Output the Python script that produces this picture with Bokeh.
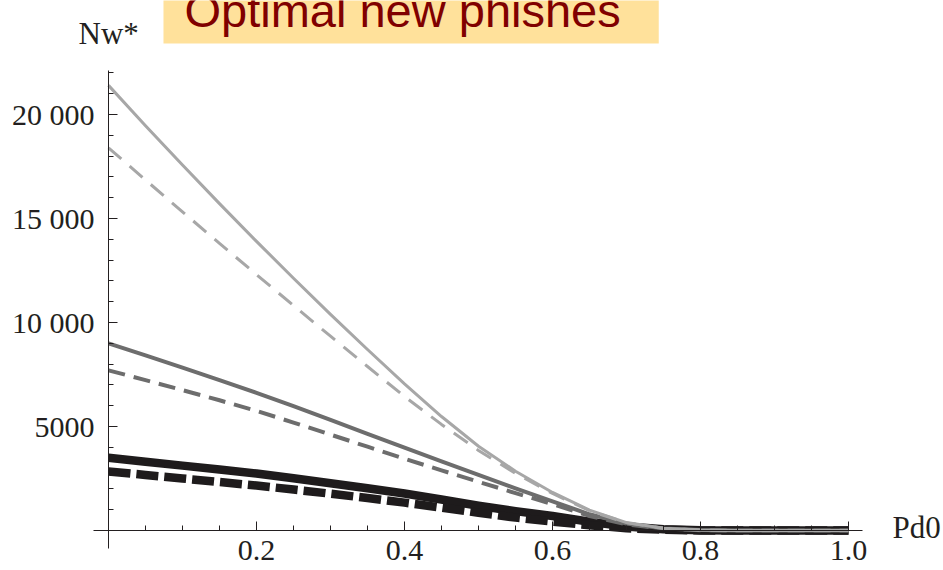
from bokeh.plotting import figure
from bokeh.models import Range1d, FixedTicker, Label
from bokeh.embed import file_html
from bokeh.resources import INLINE

# ---- data ----
pd0 = [0.00, 0.05, 0.10, 0.15, 0.20, 0.25, 0.30, 0.35, 0.40, 0.45, 0.50,
       0.55, 0.60, 0.65, 0.70, 0.75, 0.80, 0.85, 0.90, 0.95, 1.00]

light_solid = [21400, 19464, 17569, 15714, 13900, 12127, 10394, 8702, 7051, 5480, 4050,
               2850, 1830, 980, 380, 110, 20, 0, 0, 0, 0]
light_dashed = [18400, 16853, 15321, 13804, 12302, 10815, 9343, 7886, 6444, 5100, 3850,
                2750, 1780, 950, 370, 105, 20, 0, 0, 0, 0]
mid_solid = [9000, 8420, 7830, 7230, 6620, 5980, 5320, 4650, 3980, 3320, 2670,
             2030, 1400, 780, 330, 100, 20, 0, 0, 0, 0]
mid_dashed = [7700, 7230, 6750, 6260, 5750, 5190, 4610, 4030, 3450, 2890, 2340,
              1800, 1270, 700, 290, 90, 15, 0, 0, 0, 0]
black_solid = [3500, 3310, 3120, 2930, 2740, 2510, 2270, 2030, 1780, 1490, 1190,
               930, 700, 420, 190, 60, 10, 0, 0, 0, 0]
black_dashed = [2840, 2670, 2500, 2330, 2160, 1970, 1770, 1560, 1340, 1100, 850,
                620, 430, 250, 110, 35, 5, 0, 0, 0, 0]

x_major = [0.2, 0.4, 0.6, 0.8, 1.0]
x_labels = ["0.2", "0.4", "0.6", "0.8", "1.0"]
x_minor = [0.05, 0.1, 0.15, 0.25, 0.3, 0.35, 0.45, 0.5, 0.55, 0.65, 0.7, 0.75,
           0.85, 0.9, 0.95]
y_major = [5000, 10000, 15000, 20000]
y_labels = ["5000", "10 000", "15 000", "20 000"]
y_minor = [1000, 2000, 3000, 4000, 6000, 7000, 8000, 9000, 11000, 12000, 13000,
           14000, 16000, 17000, 18000, 19000, 21000, 22000]

title_text = "Optimal new phishes"
y_title = "Nw*"
x_title = "Pd0"

INK = "#231f20"
SERIF = "Liberation Serif, serif"

# the frame covers the whole canvas; the axes cross at the origin
p = figure(width=943, height=570, output_backend="svg", toolbar_location=None,
           x_range=Range1d(-0.14595, 1.12838), y_range=Range1d(-1923, 25481),
           min_border=0, outline_line_color=None,
           background_fill_color="white", border_fill_color="white")
p.xgrid.visible = False
p.ygrid.visible = False

# series (drawn black first, light last)
styles = [
    (black_solid, "#1e1b1c", 8.5, "solid"),
    (black_dashed, "#1e1b1c", 8.5, "22 6"),
    (mid_solid, "#6d6d6d", 4, "solid"),
    (mid_dashed, "#6d6d6d", 4, "17 9"),
    (light_solid, "#a7a7a7", 3, "solid"),
    (light_dashed, "#a7a7a7", 3, "17 11"),
]
for ys, col, w, dash in styles:
    p.line(pd0, ys, line_color=col, line_width=w, line_dash=dash,
           line_join="round")

xa = p.xaxis[0]
xa.fixed_location = 0
xa.bounds = (-0.0203, 1.0189)
xa.ticker = FixedTicker(ticks=x_major, minor_ticks=x_minor)
xa.major_label_overrides = dict(zip(x_major, x_labels))
ya = p.yaxis[0]
ya.fixed_location = 0
ya.bounds = (-865, 22115)
ya.ticker = FixedTicker(ticks=y_major, minor_ticks=y_minor)
ya.major_label_overrides = dict(zip(y_major, y_labels))

for ax in (xa, ya):
    ax.axis_line_color = INK
    ax.axis_line_width = 1
    ax.major_tick_line_color = INK
    ax.minor_tick_line_color = INK
    ax.major_tick_in = 9
    ax.major_tick_out = 0
    ax.minor_tick_in = 5
    ax.minor_tick_out = 0
    ax.major_label_text_font = SERIF
    ax.major_label_text_font_size = "30px"
    ax.major_label_text_color = INK
xa.major_label_standoff = 10
ya.major_label_standoff = 14

p.add_layout(Label(x=1.0595, y=150, text=x_title, text_font=SERIF,
                   text_font_size="31px", text_color=INK,
                   text_baseline="middle", text_align="left"))
p.add_layout(Label(x=-0.0405, y=23894, text=y_title, text_font=SERIF,
                   text_font_size="31px", text_color=INK,
                   text_baseline="alphabetic", text_align="left"))
p.add_layout(Label(x=0.0743, y=24952, text=title_text, text_font="Liberation Sans",
                   text_font_size="47px", text_color="#800000",
                   text_baseline="alphabetic", text_align="left",
                   background_fill_color="#FFE19B",
                   padding=dict(left=21, right=38, top=4, bottom=7)))

open("out.html", "w").write(file_html(p, INLINE))
